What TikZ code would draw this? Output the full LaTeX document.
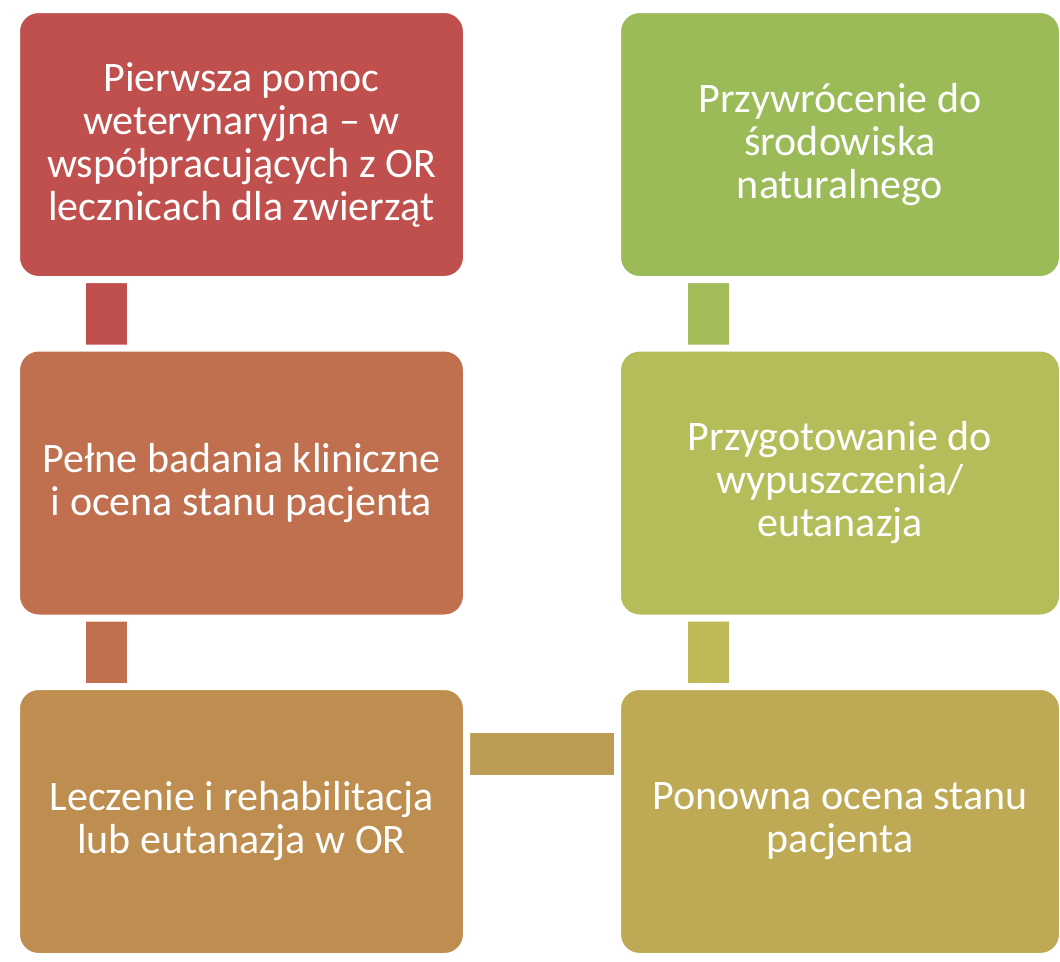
\documentclass[tikz,border=0pt]{standalone}
\usepackage{fontspec}
\setmainfont{Carlito}
\usetikzlibrary{shadows,backgrounds}

\definecolor{stepA}{HTML}{C0504D}
\definecolor{stepB}{HTML}{C0704F}
\definecolor{stepC}{HTML}{BE8D50}
\definecolor{stepD}{HTML}{BEA955}
\definecolor{stepE}{HTML}{B5BD5A}
\definecolor{stepF}{HTML}{9BBB59}
\definecolor{linkC}{HTML}{BC9B52}
\definecolor{linkD}{HTML}{BDB957}
\definecolor{linkE}{HTML}{A2BC59}

\tikzset{
  stage/.style={draw=white, line width=7pt, rounded corners=22pt,
    minimum width=450pt, minimum height=270pt, align=center, text=white,
    font=\fontsize{42}{43}\selectfont,
    drop shadow={shadow xshift=1.5pt, shadow yshift=-2.5pt, opacity=0.3}},
  link/.style={line width=41pt},
}

\begin{document}
\begin{tikzpicture}[x=1pt,y=-1pt]
\useasboundingbox (0,0) rectangle (1060,961);

% Stages, left column
\node[stage, fill=stepA] (first) at (241.5,144.5)
  {Pierwsza pomoc\\weterynaryjna -- w\\współpracujących z OR\\lecznicach dla zwierząt};
\node[stage, fill=stepB] (second) at (241.5,483)
  {Pełne badania kliniczne\\i ocena stanu pacjenta};
\node[stage, fill=stepC] (third) at (241.5,821.5)
  {Leczenie i rehabilitacja\\lub eutanazja w OR};

% Stages, right column
\node[stage, fill=stepD, minimum width=445pt] (fourth) at (840,821.5)
  {Ponowna ocena stanu\\pacjenta};
\node[stage, fill=stepE, minimum width=445pt] (fifth) at (840,483)
  {Przygotowanie do\\wypuszczenia/\\eutanazja};
\node[stage, fill=stepF, minimum width=445pt] (sixth) at (840,144.5)
  {Przywrócenie do\\środowiska\\naturalnego};

% Links
\begin{scope}[on background layer]
\draw[link, stepA] ([xshift=-135pt]first.center) -- ([xshift=-135pt]second.center);
\draw[link, stepB] ([xshift=-135pt]second.center) -- ([xshift=-135pt]third.center);
\draw[link, linkC, line width=42pt] ([yshift=67.5pt]third.center) -- ([yshift=67.5pt]fourth.center);
\draw[link, linkD] ([xshift=-131.5pt]fourth.center) -- ([xshift=-131.5pt]fifth.center);
\draw[link, linkE] ([xshift=-131.5pt]fifth.center) -- ([xshift=-131.5pt]sixth.center);
\end{scope}

\end{tikzpicture}
\end{document}
